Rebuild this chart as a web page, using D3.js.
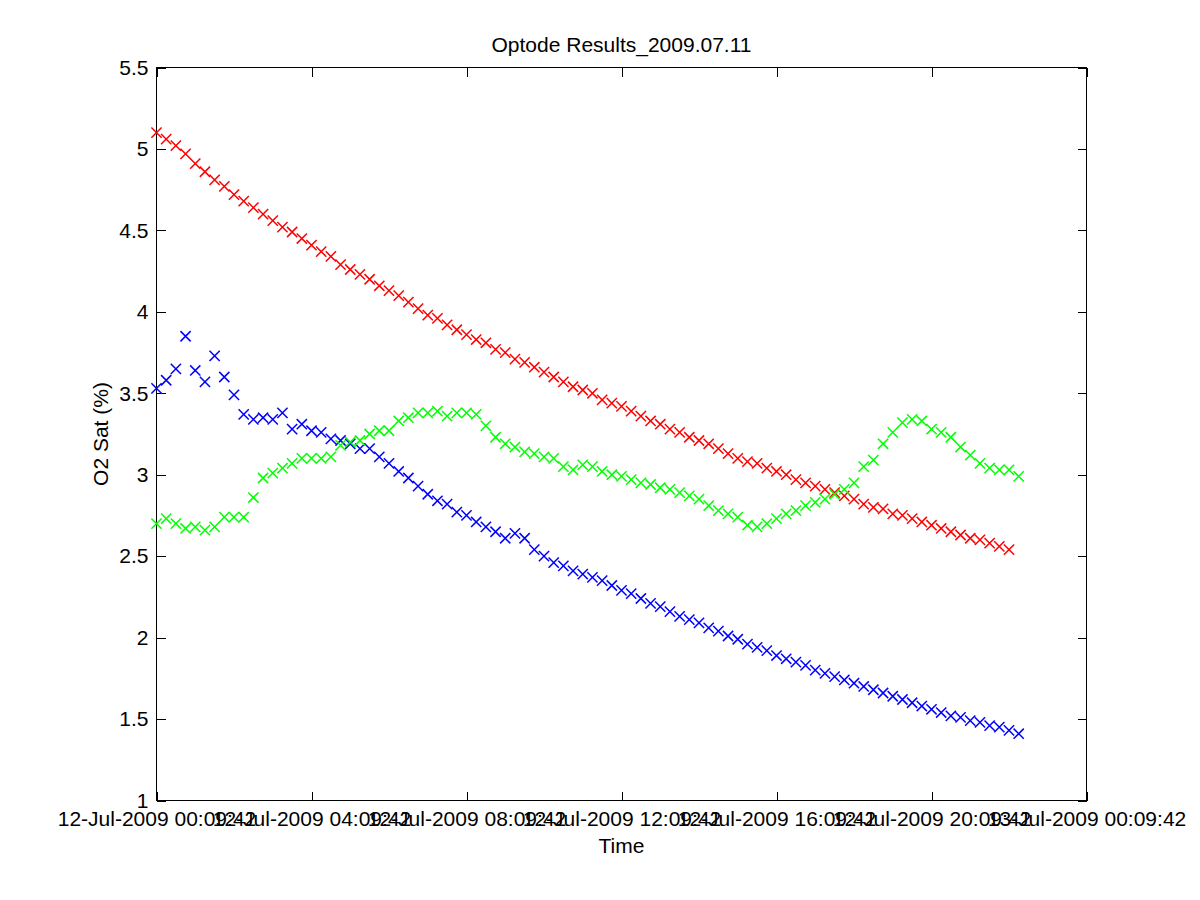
<!DOCTYPE html>
<html lang="en">

<head>
    <meta charset="UTF-8">
    <title>Optode Results_2009.07.11</title>
    <script src="https://d3js.org/d3.v7.min.js"></script>
    <style>
        body {
            margin: 0;
            background: #fff;
            font-family: "Liberation Sans", Arial, sans-serif;
        }

        .axis text {
            font-size: 21px;
            fill: #000;
        }

        .axis line {
            stroke: #000;
            shape-rendering: crispEdges;
        }

        .axis path {
            display: none;
        }
    </style>
</head>

<body>
    <div id="chart"></div>

    <script>
        // sample times (15 min apart)
        const times = [
            "00:09:42", "00:24:42", "00:39:42", "00:54:42", "01:09:42", "01:24:42", "01:39:42", "01:54:42",
            "02:09:42", "02:24:42", "02:39:42", "02:54:42", "03:09:42", "03:24:42", "03:39:42", "03:54:42",
            "04:09:42", "04:24:42", "04:39:42", "04:54:42", "05:09:42", "05:24:42", "05:39:42", "05:54:42",
            "06:09:42", "06:24:42", "06:39:42", "06:54:42", "07:09:42", "07:24:42", "07:39:42", "07:54:42",
            "08:09:42", "08:24:42", "08:39:42", "08:54:42", "09:09:42", "09:24:42", "09:39:42", "09:54:42",
            "10:09:42", "10:24:42", "10:39:42", "10:54:42", "11:09:42", "11:24:42", "11:39:42", "11:54:42",
            "12:09:42", "12:24:42", "12:39:42", "12:54:42", "13:09:42", "13:24:42", "13:39:42", "13:54:42",
            "14:09:42", "14:24:42", "14:39:42", "14:54:42", "15:09:42", "15:24:42", "15:39:42", "15:54:42",
            "16:09:42", "16:24:42", "16:39:42", "16:54:42", "17:09:42", "17:24:42", "17:39:42", "17:54:42",
            "18:09:42", "18:24:42", "18:39:42", "18:54:42", "19:09:42", "19:24:42", "19:39:42", "19:54:42",
            "20:09:42", "20:24:42", "20:39:42", "20:54:42", "21:09:42", "21:24:42", "21:39:42", "21:54:42",
            "22:09:42", "22:24:42"
        ];

        // O2 saturation (%) per sensor
        const redValues = [
            5.10, 5.06, 5.02, 4.97, 4.91, 4.86, 4.81, 4.77, 4.72, 4.68, 4.64, 4.60, 4.56, 4.52, 4.49, 4.45,
            4.41, 4.37, 4.34, 4.29, 4.26, 4.23, 4.20, 4.16, 4.13, 4.10, 4.06, 4.02, 3.98, 3.96, 3.92, 3.89,
            3.86, 3.83, 3.81, 3.77, 3.75, 3.71, 3.69, 3.66, 3.63, 3.60, 3.57, 3.54, 3.52, 3.50, 3.46, 3.44,
            3.42, 3.39, 3.36, 3.33, 3.31, 3.28, 3.26, 3.23, 3.21, 3.19, 3.16, 3.13, 3.10, 3.08, 3.07, 3.04,
            3.02, 3.00, 2.97, 2.95, 2.93, 2.91, 2.89, 2.87, 2.85, 2.82, 2.80, 2.79, 2.76, 2.75, 2.73, 2.71,
            2.69, 2.67, 2.65, 2.63, 2.61, 2.60, 2.58, 2.56, 2.54
        ];

        const blueValues = [
            3.53, 3.58, 3.65, 3.85, 3.64, 3.57, 3.73, 3.60, 3.49, 3.37, 3.34, 3.35, 3.34, 3.38, 3.28, 3.31,
            3.27, 3.26, 3.22, 3.21, 3.19, 3.16, 3.16, 3.11, 3.07, 3.02, 2.98, 2.93, 2.88, 2.84, 2.82, 2.77,
            2.75, 2.71, 2.68, 2.65, 2.61, 2.64, 2.61, 2.54, 2.50, 2.46, 2.44, 2.41, 2.39, 2.37, 2.35, 2.32,
            2.29, 2.27, 2.24, 2.21, 2.19, 2.16, 2.13, 2.11, 2.09, 2.06, 2.04, 2.01, 1.99, 1.96, 1.94, 1.92,
            1.89, 1.87, 1.85, 1.83, 1.80, 1.78, 1.76, 1.74, 1.72, 1.70, 1.68, 1.66, 1.64, 1.62, 1.60, 1.58,
            1.56, 1.54, 1.52, 1.51, 1.49, 1.48, 1.46, 1.45, 1.43, 1.41
        ];

        const greenValues = [
            2.70, 2.73, 2.70, 2.67, 2.68, 2.66, 2.68, 2.74, 2.74, 2.74, 2.86, 2.98, 3.01, 3.04, 3.07, 3.10,
            3.10, 3.10, 3.11, 3.18, 3.20, 3.21, 3.25, 3.27, 3.27, 3.33, 3.35, 3.38, 3.38, 3.39, 3.36, 3.38,
            3.38, 3.37, 3.30, 3.23, 3.19, 3.17, 3.14, 3.13, 3.11, 3.10, 3.05, 3.03, 3.06, 3.05, 3.02, 3.00,
            2.99, 2.97, 2.95, 2.94, 2.92, 2.91, 2.89, 2.87, 2.85, 2.81, 2.78, 2.76, 2.74, 2.69, 2.68, 2.70,
            2.73, 2.76, 2.78, 2.81, 2.83, 2.85, 2.88, 2.91, 2.95, 3.05, 3.09, 3.19, 3.26, 3.32, 3.34, 3.33,
            3.28, 3.26, 3.23, 3.17, 3.12, 3.07, 3.04, 3.03, 3.03, 2.99
        ];

        // x axis ticks (every 4 hours) and their labels
        const tickTimes = [
            "2009-07-12 00:09:42", "2009-07-12 04:09:42", "2009-07-12 08:09:42", "2009-07-12 12:09:42",
            "2009-07-12 16:09:42", "2009-07-12 20:09:42", "2009-07-13 00:09:42"
        ];
        const tickLabels = [
            "12-Jul-2009 00:09:42", "12-Jul-2009 04:09:42", "12-Jul-2009 08:09:42", "12-Jul-2009 12:09:42",
            "12-Jul-2009 16:09:42", "12-Jul-2009 20:09:42", "13-Jul-2009 00:09:42"
        ];
        const yTicks = [1, 1.5, 2, 2.5, 3, 3.5, 4, 4.5, 5, 5.5];

        const parse = d3.timeParse("%Y-%m-%d %H:%M:%S");
        const xTickDates = tickTimes.map(parse);
        const sampleDates = times.map(t => parse("2009-07-12 " + t));

        const series = [
            { name: "red", color: "#ff0000", values: redValues },
            { name: "blue", color: "#0000ff", values: blueValues },
            { name: "green", color: "#00ff00", values: greenValues }
        ];

        // Kích thước
        const W = 1200, H = 900;
        const margin = { top: 67.5, right: 113.5, bottom: 99.5, left: 156.5 };
        const width = W - margin.left - margin.right,
            height = H - margin.top - margin.bottom;

        const svg = d3.select("#chart").append("svg")
            .attr("width", W)
            .attr("height", H);

        const g = svg.append("g")
            .attr("transform", `translate(${margin.left},${margin.top})`);

        const x = d3.scaleTime()
            .domain([xTickDates[0], xTickDates[xTickDates.length - 1]])
            .range([0, width]);

        const y = d3.scaleLinear()
            .domain([1, 5.5])
            .range([height, 0]);

        // axes, ticks pointing inward like MATLAB
        g.append("g")
            .attr("class", "axis")
            .attr("transform", `translate(0,${height})`)
            .call(d3.axisBottom(x)
                .tickValues(xTickDates)
                .tickFormat((d, i) => tickLabels[i])
                .tickSizeInner(-9).tickSizeOuter(0).tickPadding(11));

        g.append("g")
            .attr("class", "axis")
            .call(d3.axisTop(x)
                .tickValues(xTickDates)
                .tickFormat("")
                .tickSizeInner(-9).tickSizeOuter(0));

        g.append("g")
            .attr("class", "axis")
            .call(d3.axisLeft(y)
                .tickValues(yTicks)
                .tickFormat(d3.format("~g"))
                .tickSizeInner(-9).tickSizeOuter(0).tickPadding(8));

        g.append("g")
            .attr("class", "axis")
            .attr("transform", `translate(${width},0)`)
            .call(d3.axisRight(y)
                .tickValues(yTicks)
                .tickFormat("")
                .tickSizeInner(-9).tickSizeOuter(0));

        // box
        g.append("rect")
            .attr("width", width)
            .attr("height", height)
            .attr("fill", "none")
            .attr("stroke", "#000")
            .attr("stroke-width", 1)
            .attr("shape-rendering", "crispEdges");

        // markers
        const marker = d3.symbol(d3.symbolTimes).size(70);

        series.forEach(s => {
            g.append("g")
                .selectAll("path")
                .data(s.values)
                .enter().append("path")
                .attr("d", marker)
                .attr("transform", (d, i) => `translate(${x(sampleDates[i])},${y(d)})`)
                .attr("fill", "none")
                .attr("stroke", s.color)
                .attr("stroke-width", 1.5);
        });

        // labels
        svg.append("text")
            .attr("x", margin.left + width / 2)
            .attr("y", 52)
            .attr("text-anchor", "middle")
            .style("font-size", "21px")
            .text("Optode Results_2009.07.11");

        svg.append("text")
            .attr("x", margin.left + width / 2)
            .attr("y", 853)
            .attr("text-anchor", "middle")
            .style("font-size", "21px")
            .text("Time");

        svg.append("text")
            .attr("transform", `translate(108,${margin.top + height / 2}) rotate(-90)`)
            .attr("text-anchor", "middle")
            .style("font-size", "21px")
            .text("O2 Sat (%)");
    </script>
</body>

</html>
